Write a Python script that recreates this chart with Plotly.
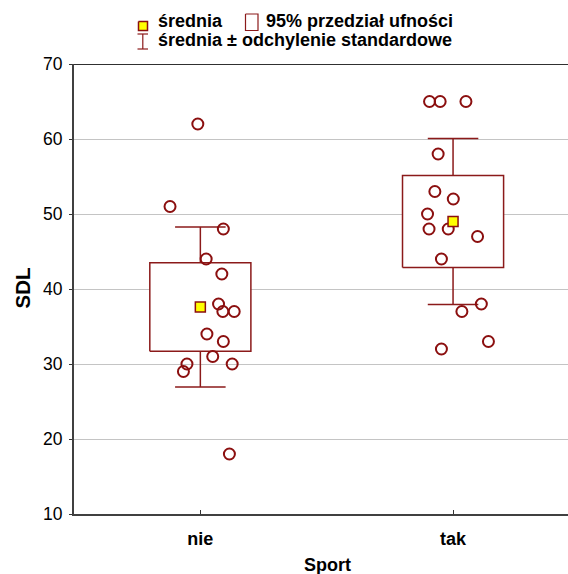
import statistics
import plotly.graph_objects as go

categories = ["nie", "tak"]
sdl_nie = [62, 51, 48, 44, 42, 38, 37, 37, 34, 33, 31, 30, 30, 29, 18]
jitter_nie = [-0.010, -0.120, 0.091, 0.023, 0.085, 0.072, 0.089, 0.134, 0.026,
              0.091, 0.049, -0.053, 0.126, -0.067, 0.115]
sdl_tak = [65, 65, 65, 58, 53, 52, 50, 48, 48, 47, 44, 38, 37, 33, 32]
jitter_tak = [-0.093, -0.051, 0.051, -0.059, -0.072, 0.001, -0.101, -0.095, -0.019,
              0.097, -0.046, 0.112, 0.035, 0.140, -0.046]
y_ticks = [10, 20, 30, 40, 50, 60, 70]
legend_labels = ["średnia", "95% przedział ufności", "średnia ± odchylenie standardowe"]
t_crit = 2.145  # Student t, df = 14, 95%

groups = [sdl_nie, sdl_tak]
jitters = [jitter_nie, jitter_tak]

W, H = 568, 574
ML, MR, MT, MB = 74, 0, 10, 60
PW, PH = W - ML - MR, H - MT - MB
PLOT_TOP = 64                    # pixel row of the y = 70 line
Y_SPLIT = (H - MB - PLOT_TOP) / PH
X_PER_CAT = 252.7

DARK = "#8b0f0f"
BOXC = "#8b1a1a"
FONT = "Arial, Liberation Sans, sans-serif"


def px(x):
    return (x - ML) / PW


def py(y):
    return (H - MB - y) / PH


fig = go.Figure()

for i, (vals, jit) in enumerate(zip(groups, jitters)):
    m = statistics.mean(vals)
    sd = statistics.stdev(vals)
    se = sd / len(vals) ** 0.5
    lo, hi = m - t_crit * se, m + t_crit * se
    # whiskers (mean +/- sd)
    fig.add_trace(go.Scatter(
        x=[i, i, None, i - 0.1, i + 0.1, None, i - 0.1, i + 0.1],
        y=[m - sd, m + sd, None, m + sd, m + sd, None, m - sd, m - sd],
        mode="lines", line=dict(color=BOXC, width=1.5), hoverinfo="skip"))
    # 95% CI box
    fig.add_trace(go.Scatter(
        x=[i - 0.2, i + 0.2, i + 0.2, i - 0.2, i - 0.2],
        y=[lo, lo, hi, hi, lo],
        mode="lines", fill="toself", fillcolor="white",
        line=dict(color=BOXC, width=1.5), hoverinfo="skip"))
    # raw points
    fig.add_trace(go.Scatter(
        x=[i + j for j in jit], y=vals, mode="markers",
        marker=dict(symbol="circle-open", size=11, color=DARK,
                    line=dict(width=2, color=DARK))))
    # mean
    fig.add_trace(go.Scatter(
        x=[i], y=[m], mode="markers",
        marker=dict(symbol="square", size=10, color="#ffff00",
                    line=dict(width=1.5, color=DARK))))

# ---- custom legend in its own (hidden) axis band, pixel units ----
fig.add_trace(go.Scatter(
    x=[138.5, 147.5, 147.5, 138.5, 138.5], y=[21.5, 21.5, 30.5, 30.5, 21.5],
    xaxis="x2", yaxis="y2", mode="lines", fill="toself", fillcolor="#ffff00",
    line=dict(color=DARK, width=1.5), hoverinfo="skip"))
fig.add_trace(go.Scatter(
    x=[245.5, 258, 258, 245.5, 245.5], y=[14, 14, 30.5, 30.5, 14],
    xaxis="x2", yaxis="y2", mode="lines",
    line=dict(color=BOXC, width=1.2), hoverinfo="skip"))
fig.add_trace(go.Scatter(
    x=[142.8, 142.8, None, 137.5, 148, None, 137.5, 148],
    y=[34, 49, None, 34, 34, None, 49, 49],
    xaxis="x2", yaxis="y2", mode="lines",
    line=dict(color=BOXC, width=1.2), hoverinfo="skip"))
fig.add_trace(go.Scatter(
    x=[158, 266, 158], y=[22, 22, 41], text=legend_labels,
    xaxis="x2", yaxis="y2", mode="text", textposition="middle right",
    cliponaxis=False, hoverinfo="skip",
    textfont=dict(size=18, weight="bold", family=FONT, color="black")))

fig.update_layout(
    width=W, height=H,
    margin=dict(l=ML, r=MR, t=MT, b=MB, pad=0, autoexpand=False),
    paper_bgcolor="white", plot_bgcolor="white",
    showlegend=False,
    font=dict(family=FONT, color="black"),
    xaxis=dict(
        domain=[0, 1], anchor="y",
        range=[-0.5, -0.5 + PW / X_PER_CAT], tickmode="array", tickvals=[0, 1],
        ticktext=categories, ticks="inside", ticklen=4, tickcolor="#333",
        tickfont=dict(size=18, weight="bold", family=FONT),
        ticklabelstandoff=7,
        showline=True, linecolor="#404040", linewidth=2, mirror=False,
        showgrid=False, zeroline=False),
    yaxis=dict(
        domain=[0, Y_SPLIT], anchor="x",
        range=[10, 70], tickmode="array", tickvals=y_ticks,
        ticks="outside", ticklen=3, tickcolor="#333",
        tickfont=dict(size=17.5, family=FONT), ticklabelstandoff=3,
        showline=True, linecolor="#404040", linewidth=2,
        showgrid=True, gridcolor="#c4c4c4", gridwidth=1, zeroline=False),
    xaxis2=dict(domain=[0, 1], anchor="y2", range=[ML, W - MR], visible=False,
                showgrid=False, zeroline=False, fixedrange=True),
    yaxis2=dict(domain=[Y_SPLIT, 1], anchor="x2", range=[PLOT_TOP, MT],
                visible=False, showgrid=False, zeroline=False, fixedrange=True),
)

# top frame line of the plot area
fig.add_shape(type="line", xref="paper", yref="y", x0=0, x1=1, y0=70, y1=70,
              line=dict(color="#303030", width=2))

# axis titles
fig.add_annotation(text="Sport", xref="paper", yref="paper", x=px(327), y=py(565),
                   showarrow=False, font=dict(size=18, weight="bold", family=FONT),
                   xanchor="center", yanchor="middle")
fig.add_annotation(text="SDL", xref="paper", yref="paper", x=px(21.5), y=py(288),
                   showarrow=False, textangle=-90,
                   font=dict(size=20.5, weight="bold", family=FONT),
                   xanchor="center", yanchor="middle")

fig.write_html(
    "out.html",
    config={"displayModeBar": False},
    post_script="document.body.style.margin='0';document.body.style.overflow='hidden';",
)
